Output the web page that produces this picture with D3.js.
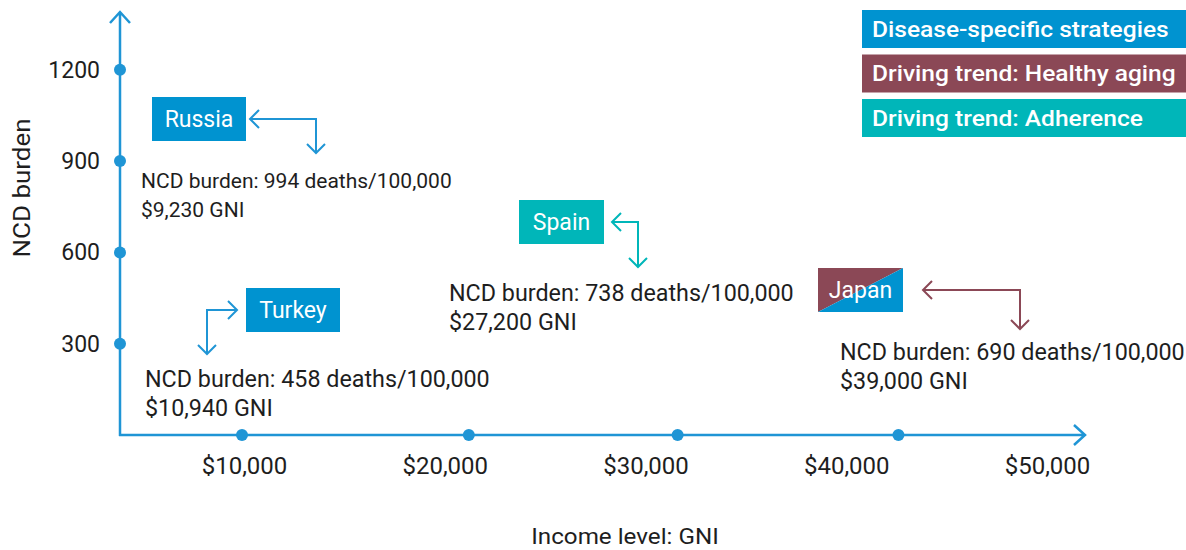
<!DOCTYPE html>
<html>
<head>
<meta charset="utf-8">
<script src="https://cdn.jsdelivr.net/npm/d3@7"></script>
<style>
  body { margin: 0; background: #fff; }
  svg { display: block; font-family: Roboto, "Noto Sans", sans-serif; }
</style>
</head>
<body>
<main></main>
<script>
// data
const countries = ["Russia", "Turkey", "Spain", "Japan"];
const gniValues = [9230, 10940, 27200, 39000];
const ncdValues = [994, 458, 738, 690];
const gniLabels = ["$9,230 GNI", "$10,940 GNI", "$27,200 GNI", "$39,000 GNI"];
const countryGroup = ["disease", "disease", "adherence", "aging"];

const xTicks = [10000, 20000, 30000, 40000, 50000];
const xDots = [9900, 21200, 31600, 42600];
const yTicks = [300, 600, 900, 1200];

const legendLabels = ["Disease-specific strategies", "Driving trend: Healthy aging", "Driving trend: Adherence"];
const legendKeys = ["disease", "aging", "adherence"];

const COLORS = { disease: "#0093d0", aging: "#8b4856", adherence: "#00b6b9" };
const AXIS = "#1f95d5";
const TEXT = "#1e1e1e";

// annotation placement (box offset from the data point, arrow/text relative to box)
const layout = {
  Russia: { bx: -77, by: -36, w: 94, arrowSide: "right", gap: 4, elbow: 70, drop: 12, tx: -11, ty: 47, fs: 21 },
  Turkey: { bx: -17, by: -8, w: 94, arrowSide: "left", gap: 9, elbow: 39, drop: 22, tx: -101, ty: 55, fs: 23.3 },
  Spain:  { bx: -70, by: -10, w: 85, arrowSide: "right", gap: 8, elbow: 34, drop: 23, tx: -70, ty: 57, fs: 23.3 },
  Japan:  { bx: -8, by: 43, w: 85, arrowSide: "right", gap: 20, elbow: 117, drop: 17, tx: 22, ty: 48, fs: 23.3 }
};
const BOX_H = 44;

// widen text a bit, the source artwork is stretched horizontally
const stretch = (sel, k) => {
  sel.each(function () {
    const len = this.getComputedTextLength();
    d3.select(this)
      .attr("textLength", len * k)
      .attr("lengthAdjust", "spacingAndGlyphs");
  });
};

const showChart = () => {
  const WIDTH = 1186, HEIGHT = 550;
  const ORIGIN_X = 120, ORIGIN_Y = 435;

  const svg = d3.select("main").append("svg")
      .attr("width", WIDTH)
      .attr("height", HEIGHT);

  const xScale = d3.scaleLinear().domain([10000, 50000]).range([244, 1047]);
  const yScale = d3.scaleLinear().domain([0, 1390]).range([ORIGIN_Y, 12]);

  // axis lines with open arrows
  const axisG = svg.append("g")
      .attr("fill", "none")
      .attr("stroke", AXIS)
      .attr("stroke-width", 2.5);
  const yTop = yScale(1390);
  const xEnd = 1085;
  axisG.append("path")
      .attr("d", `M${ORIGIN_X},${ORIGIN_Y + 1}V${yTop} M${ORIGIN_X - 10},${yTop + 11}L${ORIGIN_X},${yTop}L${ORIGIN_X + 10},${yTop + 11}`);
  axisG.append("path")
      .attr("d", `M${ORIGIN_X - 1},${ORIGIN_Y}H${xEnd} M${xEnd - 11},${ORIGIN_Y - 10}L${xEnd},${ORIGIN_Y}L${xEnd - 11},${ORIGIN_Y + 10}`);

  // tick labels
  const xAxis = d3.axisBottom(xScale)
      .tickValues(xTicks)
      .tickFormat(d3.format("$,"))
      .tickSize(0)
      .tickPadding(22);
  const gx = svg.append("g")
      .attr("transform", `translate(0, ${ORIGIN_Y})`)
      .call(xAxis);
  gx.select(".domain").remove();
  gx.selectAll("text").attr("font-size", 24).attr("fill", TEXT).attr("font-family", "Roboto");

  const yAxis = d3.axisLeft(yScale)
      .tickValues(yTicks)
      .tickFormat(d => d)
      .tickSize(0)
      .tickPadding(20);
  const gy = svg.append("g")
      .attr("transform", `translate(${ORIGIN_X}, 0)`)
      .call(yAxis);
  gy.select(".domain").remove();
  gy.selectAll("text").attr("font-size", 23).attr("fill", TEXT).attr("font-family", "Roboto");

  // axis dots
  svg.selectAll(".xdot")
    .data(xDots)
    .enter().append("circle")
      .attr("class", "xdot")
      .attr("cx", d => xScale(d))
      .attr("cy", ORIGIN_Y)
      .attr("r", 6)
      .attr("fill", AXIS);
  svg.selectAll(".ydot")
    .data(yTicks)
    .enter().append("circle")
      .attr("class", "ydot")
      .attr("cx", ORIGIN_X)
      .attr("cy", d => yScale(d))
      .attr("r", 6)
      .attr("fill", AXIS);

  // axis titles
  svg.append("text")
      .attr("transform", `translate(30, 188) rotate(-90)`)
      .attr("text-anchor", "middle")
      .attr("font-size", 24)
      .attr("fill", TEXT)
      .text("NCD burden")
      .call(stretch, 1.08);
  svg.append("text")
      .attr("x", 625)
      .attr("y", 544)
      .attr("text-anchor", "middle")
      .attr("font-size", 22)
      .attr("fill", TEXT)
      .text("Income level: GNI")
      .call(stretch, 1.1);

  // legend
  const legend = svg.append("g");
  legendLabels.forEach((label, i) => {
    const y = 10 + i * 44.5;
    legend.append("rect")
        .attr("x", 862).attr("y", y)
        .attr("width", 324).attr("height", 38)
        .attr("fill", COLORS[legendKeys[i]]);
    legend.append("text")
        .attr("x", 872).attr("y", y + 19)
        .attr("dy", "0.35em")
        .attr("font-size", 22)
        .attr("font-weight", 500)
        .attr("fill", "#fff")
        .text(label)
        .call(stretch, 1.115);
  });

  // annotations
  countries.forEach((name, i) => {
    const L = layout[name];
    const px = xScale(gniValues[i]);
    const py = yScale(ncdValues[i]);
    const bx = Math.round(px + L.bx);
    const by = Math.round(py + L.by);
    const group = countryGroup[i];
    const g = svg.append("g");

    if (group === "aging") {
      // split box: healthy aging over disease-specific
      g.append("path")
          .attr("d", `M${bx},${by}H${bx + L.w}L${bx},${by + BOX_H}Z`)
          .attr("fill", COLORS.aging);
      g.append("path")
          .attr("d", `M${bx + L.w},${by}V${by + BOX_H}H${bx}Z`)
          .attr("fill", COLORS.disease);
    } else {
      g.append("rect")
          .attr("x", bx).attr("y", by)
          .attr("width", L.w).attr("height", BOX_H)
          .attr("fill", COLORS[group]);
    }
    g.append("text")
        .attr("x", bx + L.w / 2)
        .attr("y", by + BOX_H / 2)
        .attr("dy", "0.35em")
        .attr("text-anchor", "middle")
        .attr("font-size", 23)
        .attr("fill", "#fff")
        .text(name);

    // elbow arrow
    const arrowColor = group === "disease" ? AXIS : COLORS[group];
    const my = by + BOX_H / 2;
    let sx, ex;
    if (L.arrowSide === "right") {
      sx = bx + L.w + L.gap;
      ex = bx + L.w + L.elbow;
    } else {
      sx = bx - L.gap;
      ex = bx - L.elbow;
    }
    const ey = by + BOX_H + L.drop;
    const dir = L.arrowSide === "right" ? 1 : -1;
    g.append("path")
        .attr("d", `M${sx},${my}H${ex}V${ey}` +
                   ` M${sx + dir * 9},${my - 9}L${sx},${my}L${sx + dir * 9},${my + 9}` +
                   ` M${ex - 9},${ey - 9}L${ex},${ey}L${ex + 9},${ey - 9}`)
        .attr("fill", "none")
        .attr("stroke", arrowColor)
        .attr("stroke-width", 2);

    const t = g.append("text")
        .attr("x", bx + L.tx)
        .attr("y", by + BOX_H + L.ty)
        .attr("font-size", L.fs)
        .attr("fill", TEXT);
    t.append("tspan").text(`NCD burden: ${ncdValues[i]} deaths/100,000`);
    t.append("tspan").attr("x", bx + L.tx).attr("dy", 29).text(gniLabels[i]);
  });
};

document.addEventListener("DOMContentLoaded", showChart);
</script>
</body>
</html>
